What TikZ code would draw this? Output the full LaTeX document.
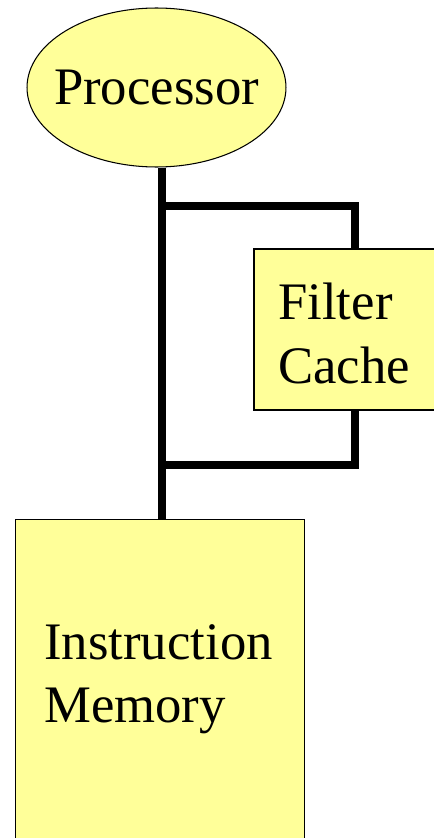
\documentclass[tikz,border=0pt]{standalone}
\usepackage{fontspec}
\setmainfont{Liberation Serif}
\usetikzlibrary{positioning,shapes.geometric}
\definecolor{paleyellow}{HTML}{FFFF99}
\tikzset{unit/.style = {draw,fill=paleyellow,line width=0.6pt,inner sep=0pt}}
\tikzset{bus/.style = {line width=4.6pt}}
\tikzset{lbl/.style = {font=\fontsize{30}{36}\selectfont,align=left,inner sep=0pt}}

\begin{document}
\begin{tikzpicture}[x=0.02cm,y=-0.02cm]
  \useasboundingbox (0,0) rectangle (433,838);

  \node [unit,ellipse,minimum width=5.18cm,minimum height=3.18cm,
         font=\fontsize{30}{36}\selectfont] (proc) at (156.5,87.5) {\makebox[0pt]{Processor}};
  \node [unit,minimum width=3.72cm,minimum height=3.22cm] (cache) at (347,329.5) {};
  \node [unit,minimum width=5.79cm,minimum height=6.6cm,anchor=north west] (imem) at (14.7,519.3) {};
  \node [lbl,anchor=north west] (cachetxt) at (278,283) {Filter\\Cache};
  \node [lbl,anchor=north west] (imemtxt) at (44,624) {Instruction\\Memory};

  % bus taps
  \coordinate (jtop) at (162,206);
  \coordinate (jbot) at (162,465);
  \coordinate (ctap) at (355,206);
  \coordinate (cret) at (355,465);

  \draw [bus] (proc.south -| jtop) -- (jbot |- imem.north);
  \draw [bus] (jtop) -- (ctap) -- (ctap |- cache.north);
  \draw [bus] (cret |- cache.south) -- (cret) -- (jbot);
\end{tikzpicture}
\end{document}
